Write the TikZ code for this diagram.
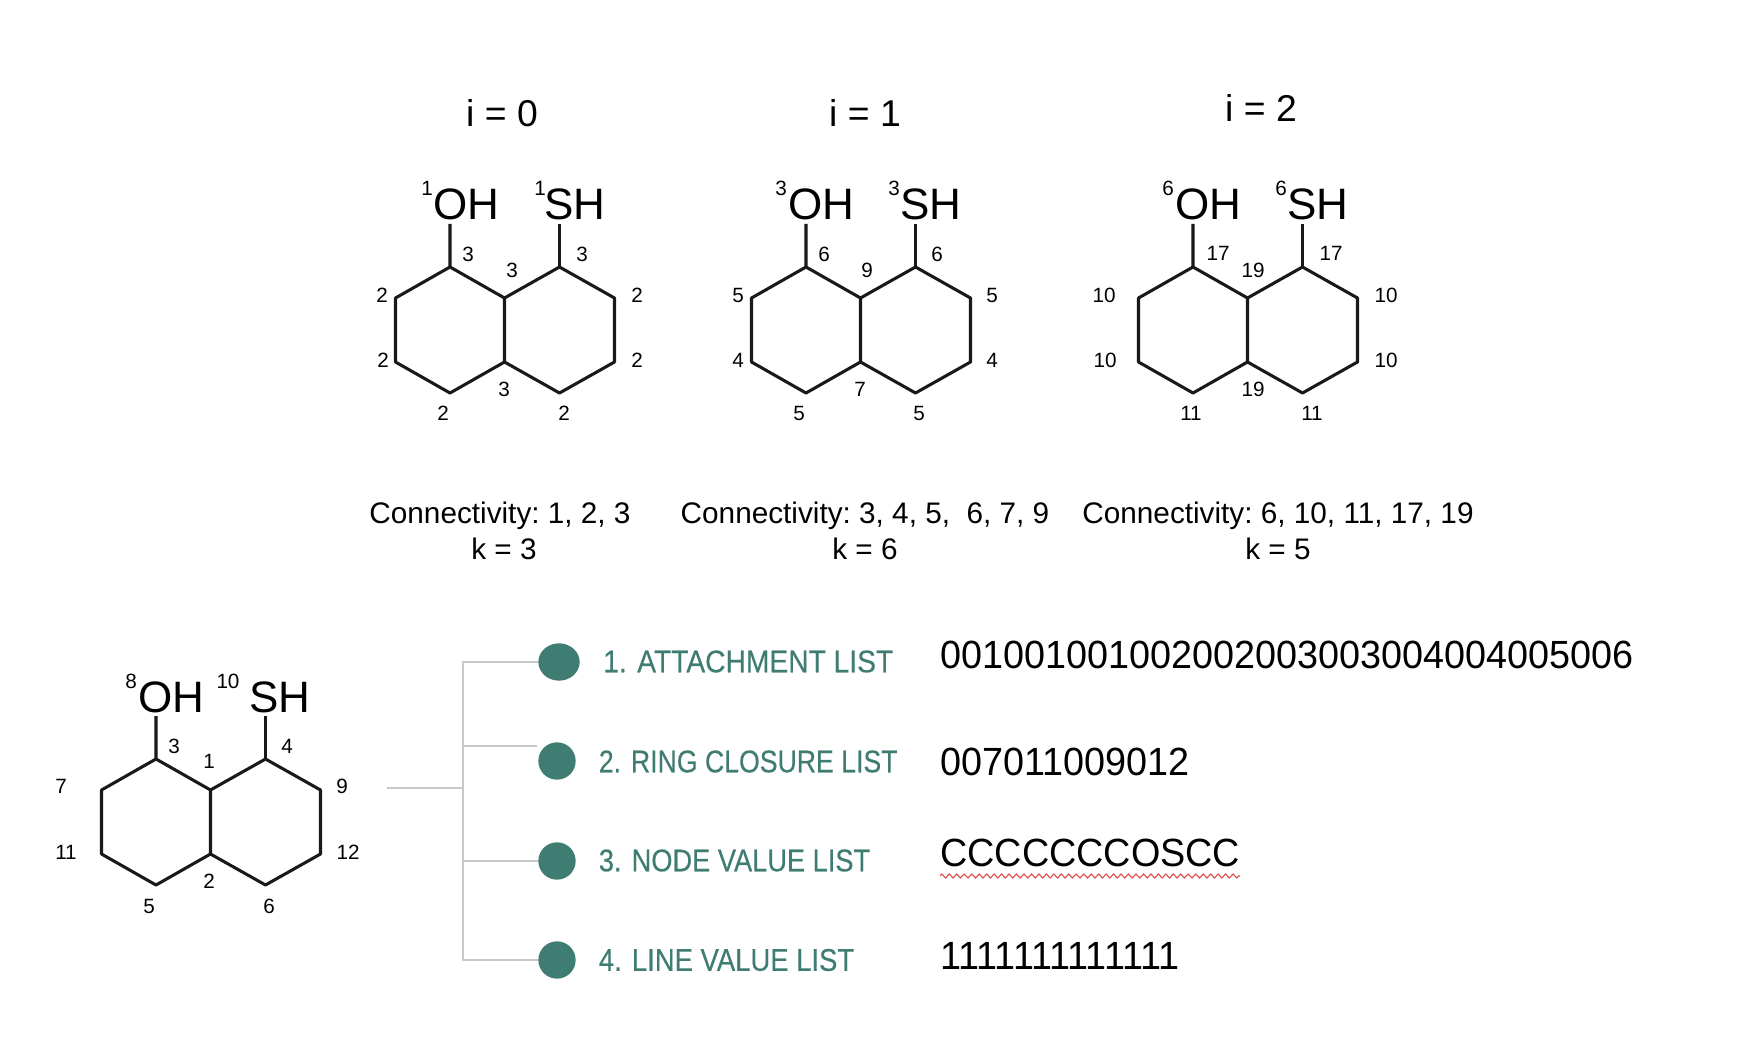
\documentclass[tikz,border=0pt]{standalone}
\usepackage{fontspec}
\usepackage{graphicx}
\usetikzlibrary{decorations.pathmorphing,shapes.geometric}
\setmainfont{Liberation Sans}
\newfontfamily\listfont[FakeBold=0.3]{Liberation Sans}
\definecolor{teal1}{HTML}{3F7C72}
\definecolor{branch}{HTML}{C8C8C8}
\definecolor{squig}{HTML}{E04848}
\tikzset{
  x=0.75pt,y=-0.75pt,
  small/.style={font=\fontsize{15.5}{15.5}\selectfont,inner sep=0pt},
  group/.style={font=\fontsize{33}{33}\selectfont,inner sep=0pt},
  head/.style={font=\fontsize{28}{30}\selectfont,inner sep=0pt},
  conn/.style={font=\frenchspacing\fontsize{22.3}{24}\selectfont,inner sep=0pt,anchor=base},
  listlabel/.style={font=\fontsize{23.5}{24}\selectfont\listfont,text=teal1,inner sep=0pt,anchor=west},
  listvalue/.style={font=\fontsize{29.5}{30}\selectfont,inner sep=0pt,anchor=west},
  bond/.style={line width=2.3pt,line join=round,black!90},
  branchline/.style={line width=1.8pt,branch},
  dotnode/.style={ellipse,fill=teal1,inner sep=0pt}
}
% molecule skeleton: #1 prefix, #2 x of the OH carbon, #3 y of the OH carbon
\newcommand{\skeleton}[3]{
  \coordinate (#1a) at (#2,#3);
  \coordinate (#1b) at (#2-54.5,#3+31);
  \coordinate (#1c) at (#2-54.5,#3+95);
  \coordinate (#1d) at (#2,#3+126);
  \coordinate (#1e) at (#2+54.5,#3+95);
  \coordinate (#1f) at (#2+54.5,#3+31);
  \coordinate (#1g) at (#2+109.5,#3);
  \coordinate (#1h) at (#2+164.5,#3+31);
  \coordinate (#1i) at (#2+164.5,#3+95);
  \coordinate (#1j) at (#2+109.5,#3+126);
  \coordinate (#1o) at (#2,#3-43);
  \coordinate (#1s) at (#2+109.5,#3-43);
  \draw[bond] (#1o) -- (#1a) -- (#1b) -- (#1c) -- (#1d) -- (#1e) -- (#1f) -- (#1a);
  \draw[bond] (#1e) -- (#1j) -- (#1i) -- (#1h) -- (#1g) -- (#1f);
  \draw[bond] (#1g) -- (#1s);
}
\newcommand{\lbl}[3]{\node[small] at (#1,#2-0.3) {#3};}
\newcommand{\fitw}[2]{\resizebox{#1pt}{\height}{#2}}
\begin{document}
\begin{tikzpicture}
\useasboundingbox (0,0) rectangle (1764,1052);
\fill[white] (0,0) rectangle (1764,1052);

% headings
\node[head] (h0) at (502,113) {i = 0};
\node[head] (h1) at (865,113) {i = 1};
\node[head] (h2) at (1261,108) {i = 2};

% molecule i=0
\skeleton{m}{450}{267}
\node[group] (moh) at (466,204.5) {OH};
\node[group] (msh) at (575,204.5) {SH};
\lbl{427}{189}{1}\lbl{540}{189}{1}
\lbl{468}{255}{3}\lbl{512}{271}{3}\lbl{582}{255}{3}
\lbl{382}{296}{2}\lbl{383}{361}{2}\lbl{504}{390}{3}
\lbl{443}{414}{2}\lbl{564}{414}{2}\lbl{637}{296}{2}\lbl{637}{361}{2}

% molecule i=1
\skeleton{n}{806}{267}
\node[group] (noh) at (821,204.5) {OH};
\node[group] (nsh) at (931,204.5) {SH};
\lbl{781}{189}{3}\lbl{894}{189}{3}
\lbl{824}{255}{6}\lbl{867}{271}{9}\lbl{937}{255}{6}
\lbl{738}{296}{5}\lbl{738}{361}{4}\lbl{860}{390}{7}
\lbl{799}{414}{5}\lbl{919}{414}{5}\lbl{992}{296}{5}\lbl{992}{361}{4}

% molecule i=2
\skeleton{p}{1193}{267}
\node[group] (poh) at (1208,204.5) {OH};
\node[group] (psh) at (1318,204.5) {SH};
\lbl{1168}{189}{6}\lbl{1281}{189}{6}
\lbl{1218}{254}{17}\lbl{1253}{271}{19}\lbl{1331}{254}{17}
\lbl{1104}{296}{10}\lbl{1105}{361}{10}\lbl{1253}{390}{19}
\lbl{1191}{414}{11}\lbl{1312}{414}{11}\lbl{1386}{296}{10}\lbl{1386}{361}{10}

% connectivity
\node[conn] (c0) at (500,523) {Connectivity: 1, 2, 3};
\node[conn] (k0) at (504,559) {k = 3};
\node[conn] (c1) at (865,523) {Connectivity: 3, 4, 5,\ \ 6, 7, 9};
\node[conn] (k1) at (865,559) {k = 6};
\node[conn] (c2) at (1278,523) {Connectivity: 6, 10, 11, 17, 19};
\node[conn] (k2) at (1278,559) {k = 5};

% numbered molecule
\skeleton{q}{156}{759}
\node[group] (qoh) at (171,697) {OH};
\node[group] (qsh) at (280,697) {SH};
\lbl{131}{682}{8}\lbl{228}{682}{10}
\lbl{174}{747}{3}\lbl{209}{762}{1}\lbl{287}{747}{4}
\lbl{61}{787}{7}\lbl{66}{853}{11}\lbl{209}{882}{2}
\lbl{149}{907}{5}\lbl{269}{907}{6}\lbl{342}{787}{9}\lbl{348}{853}{12}

% tree
\node[dotnode,minimum width=31pt,minimum height=28pt] (d1) at (559,662) {};
\node[dotnode,minimum width=28pt,minimum height=28pt] (d2) at (557,761) {};
\node[dotnode,minimum width=28pt,minimum height=28pt] (d3) at (557,861) {};
\node[dotnode,minimum width=28pt,minimum height=28pt] (d4) at (557,960) {};
\coordinate (root) at (387,788);
\coordinate (jn) at (463,788);
\coordinate (top) at (463,662);
\coordinate (t2) at (463,746);
\coordinate (e2) at (537,746);
\coordinate (t3) at (463,861);
\coordinate (bot) at (463,960);
\draw[branchline] (root) -- (jn);
\draw[branchline] (d1.west) -- (top) -- (bot) -- (d4.west);
\draw[branchline] (t2) -- (e2);
\draw[branchline] (t3) -- (d3.west);

\node[listlabel] (l1) at (603,661.5) {\fitw{217.5}{1. ATTACHMENT LIST}};
\node[listlabel] (l2) at (598.6,761.5) {\fitw{224}{2. RING CLOSURE LIST}};
\node[listlabel] (l3) at (598.6,860.5) {\fitw{203.5}{3. NODE VALUE LIST}};
\node[listlabel] (l4) at (598.6,960) {\fitw{191.5}{4. LINE VALUE LIST}};

\node[listvalue] (v1) at (940,655) {\scalebox{0.96}[1]{001001001002002003003004004005006}};
\node[listvalue] (v2) at (940,762) {\scalebox{0.96}[1]{007011009012}};
\node[listvalue] (v3) at (940,853) {\scalebox{0.96}[1]{CCCCCCCOSCC}};
\node[listvalue] (v4) at (940,956) {\scalebox{0.96}[1]{1111111111111}};
\coordinate (sq1) at (940,876);
\coordinate (sq2) at (1240,876);
\draw[squig,line width=0.8pt,decorate,decoration={zigzag,segment length=5.6pt,amplitude=1.5pt}] (sq1) -- (sq2);
\end{tikzpicture}
\end{document}
